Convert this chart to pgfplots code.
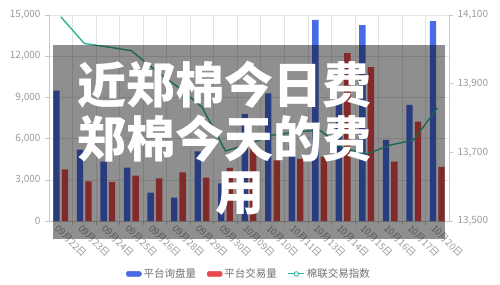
\documentclass[border=0pt]{standalone}
\usepackage{pgfplots}
\pgfplotsset{compat=1.18}
\usepackage{fontspec}
\setmainfont{Noto Sans CJK SC}
\definecolor{cblue}{HTML}{4A6BE6}
\definecolor{cred}{HTML}{E84A4A}
\definecolor{cteal}{HTML}{2FB596}
\definecolor{labgray}{HTML}{9A9A9A}
\definecolor{gridgray}{HTML}{E4E4E4}
\definecolor{axgray}{HTML}{C8C8C8}
\definecolor{leggray}{HTML}{707070}
\pgfplotstableread{
x blue red
1 9500 3760
2 5200 2890
3 4330 2830
4 3880 3300
5 2060 3110
6 1700 3545
7 5075 3155
8 2745 3860
9 7800 5400
10 9300 4420
11 5500 4515
12 14640 4680
13 8800 12220
14 14270 11200
15 5900 4320
16 8450 7230
17 14560 3950
}\bardata
\pgfplotstableread{
x idx
1 14095
2 14017
3 14007
4 13996
5 13940
6 13889
7 13832
8 13704
9 13724
10 13750
11 13759
12 13765
13 13712
14 13695
15 13721
16 13736
17 13829
}\linedata
\begin{document}
\begin{tikzpicture}[x=1pt,y=1pt]
\path[use as bounding box] (0,0) rectangle (500,284);
\begin{axis}[
  at={(49pt,63pt)}, anchor=south west,
  scale only axis, width=400pt, height=206pt,
  xmin=0.5, xmax=17.5, ymin=0, ymax=15000,
  axis x line*=bottom, axis y line*=left,
  axis line style={axgray, line width=0.6pt},
  ytick={0,3000,...,15000},
  scaled y ticks=false,
  ymajorgrids, major grid style={gridgray, line width=0.6pt},
  xtick={1,...,17},
  xticklabels={09月22日,09月23日,09月24日,09月25日,09月26日,09月28日,09月29日,09月30日,10月09日,10月10日,10月11日,10月13日,10月14日,10月15日,10月16日,10月17日,10月20日},
  minor xtick={1.5,2.5,...,16.5},
  xminorgrids, minor grid style={gridgray, line width=0.6pt},
  tick align=outside,
  major tick length=4pt, minor tick length=4pt,
  x tick style={draw=none},
  minor x tick style={draw=axgray, line width=0.6pt},
  y tick style={axgray, line width=0.6pt},
  /pgf/number format/1000 sep={,},
  /pgf/number format/assume math mode=true,
  tick label style={font=\fontsize{10}{12}\selectfont, text=labgray},
  xticklabel style={rotate=-45, anchor=north west, xshift=-3pt, yshift=1pt, font=\fontsize{9.5}{11}\selectfont, inner sep=1pt},
  yticklabel style={xshift=-1pt},
  ybar, bar width=0.27,
]
\addplot[fill=cblue, draw=none, bar shift=-0.18] table[x=x, y=blue] {\bardata};
\addplot[fill=cred, draw=none, bar shift=0.18] table[x=x, y=red] {\bardata};
\end{axis}
\begin{axis}[
  at={(49pt,63pt)}, anchor=south west,
  scale only axis, width=400pt, height=206pt,
  xmin=0.5, xmax=17.5, ymin=13500, ymax=14100,
  axis x line=none, axis y line*=right,
  axis line style={axgray, line width=0.6pt},
  ytick={13500,13700,13900,14100},
  scaled y ticks=false,
  tick align=outside, major tick length=4pt,
  y tick style={axgray, line width=0.6pt},
  /pgf/number format/1000 sep={,},
  /pgf/number format/assume math mode=true,
  tick label style={font=\fontsize{10}{12}\selectfont, text=labgray},
  yticklabel style={xshift=1pt},
  legend style={at={(0.5,-0.257)}, anchor=center, draw=none, fill=none,
    legend columns=-1, font=\fontsize{10.5}{12}\selectfont, text=leggray,
    /tikz/every even column/.append style={column sep=9pt},
    inner sep=0pt},
]
\addlegendimage{legend image code/.code={\fill[cblue, rounded corners=1.5pt] (0pt,-2.5pt) rectangle (15pt,2.5pt);}}
\addlegendentry{平台询盘量}
\addlegendimage{legend image code/.code={\fill[cred, rounded corners=1.5pt] (0pt,-2.5pt) rectangle (15pt,2.5pt);}}
\addlegendentry{平台交易量}
\addplot[cteal, line width=1.4pt, no marks,
  legend image code/.code={\draw[cteal, line width=1pt] (0pt,0pt) -- (16pt,0pt); \draw[cteal, fill=white, line width=0.8pt] (8pt,0pt) circle (2.3pt);}]
  table[x=x, y=idx] {\linedata};
\addlegendentry{棉联交易指数}
\end{axis}
\fill[black, opacity=0.44] (53,45) rectangle (445,239);
\node[anchor=west, inner sep=0pt, text=white, font=\fontsize{49}{54}\selectfont\bfseries] at (77,199) {近郑棉今日费};
\node[anchor=west, inner sep=0pt, text=white, font=\fontsize{49}{54}\selectfont\bfseries] at (77,145.5) {郑棉今天的费};
\node[anchor=center, inner sep=0pt, text=white, font=\fontsize{49}{54}\selectfont\bfseries] at (240,90.5) {用};
\end{tikzpicture}
\end{document}
